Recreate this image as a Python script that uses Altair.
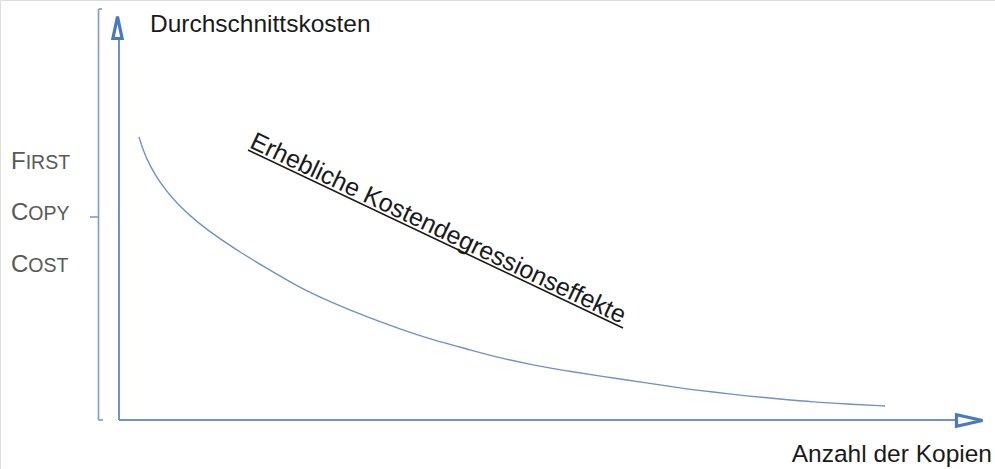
import altair as alt
import pandas as pd

# ---- data (diagram space: x = Anzahl der Kopien, y = Durchschnittskosten) ----
copies = [20, 24, 31, 41, 58, 78, 101, 124, 144, 181, 214, 248, 281, 314, 348,
          381, 414, 448, 481, 528, 561, 594, 628, 661, 694, 728, 766]
avg_cost = [283, 270, 254, 237, 216, 198, 181, 166, 154, 132, 117, 103, 91, 80, 71,
            62, 55, 49, 44, 37, 32, 28, 24, 21, 18, 16, 14]

# axis lines (segments)
axis_x = [0, 0]
axis_x2 = [0, 837]
axis_y = [0, 0]
axis_y2 = [381, 0]

# bracket for first copy cost
br_x = [-20.5, -20.5, -20.5, -29.0]
br_x2 = [-20.5, -17.0, -16.0, -20.5]
br_y = [0, 411, 0, 203]
br_y2 = [411, 411, 0, 203]

# labels
fcc_caps = ["F", "C", "C"]
fcc_rest = ["IRST", "OPY", "OST"]
fcc_y = [251, 200, 148]
fcc_x_caps = [-108, -108, -108]
fcc_x_rest = [-93.3, -90.7, -90.7]

y_title = "Durchschnittskosten"
x_title = "Anzahl der Kopien"
note = "Erhebliche Kostendegressionseffekte"

XD = [-119, 876]
YD = [-49, 420]
FONT = "Liberation Sans"
LINE = "#7090c8"
ARROW = "#4a7abd"


def X(f="x"):
    return alt.X(f"{f}:Q", scale=alt.Scale(domain=XD, nice=False, zero=False), axis=None)


def Y(f="y"):
    return alt.Y(f"{f}:Q", scale=alt.Scale(domain=YD, nice=False, zero=False), axis=None)


curve = alt.Chart(pd.DataFrame({"x": copies, "y": avg_cost})).mark_line(
    color=LINE, strokeWidth=1.4, interpolate="basis"
).encode(x=X(), y=Y(), order="x:Q")

axes = alt.Chart(pd.DataFrame({"x": axis_x, "x2": axis_x2, "y": axis_y, "y2": axis_y2})).mark_rule(
    color=LINE, strokeWidth=2
).encode(x=X(), x2="x2:Q", y=Y(), y2="y2:Q")

bracket = alt.Chart(pd.DataFrame({"x": br_x, "x2": br_x2, "y": br_y, "y2": br_y2})).mark_rule(
    color="#7d9bcb", strokeWidth=1.6
).encode(x=X(), x2="x2:Q", y=Y(), y2="y2:Q")

arrow_up = alt.Chart(pd.DataFrame({"x": [-1.5], "y": [392.5]})).mark_point(
    shape="M0,-1L0.42,1L-0.42,1Z", size=484, filled=False, stroke=ARROW,
    strokeWidth=3.2, opacity=1, strokeJoin="miter"
).encode(x=X(), y=Y())

arrow_right = alt.Chart(pd.DataFrame({"x": [850.5], "y": [-0.5]})).mark_point(
    shape="M1,0L-1,-0.44L-1,0.44Z", size=676, filled=False, stroke=ARROW,
    strokeWidth=3.2, opacity=1, strokeJoin="miter"
).encode(x=X(), y=Y())

ytitle = alt.Chart(pd.DataFrame({"x": [31], "y": [388], "t": [y_title]})).mark_text(
    align="left", baseline="alphabetic", font=FONT, fontSize=24.5, color="#1a1a1a"
).encode(x=X(), y=Y(), text="t:N")

xtitle = alt.Chart(pd.DataFrame({"x": [873], "y": [-42], "t": [x_title]})).mark_text(
    align="right", baseline="alphabetic", font=FONT, fontSize=24.5, color="#1a1a1a"
).encode(x=X(), y=Y(), text="t:N")

caps = alt.Chart(pd.DataFrame({"x": fcc_x_caps, "y": fcc_y, "t": fcc_caps})).mark_text(
    align="left", baseline="alphabetic", font=FONT, fontSize=24, color="#595959"
).encode(x=X(), y=Y(), text="t:N")

rest = alt.Chart(pd.DataFrame({"x": fcc_x_rest, "y": fcc_y, "t": fcc_rest})).mark_text(
    align="left", baseline="alphabetic", font=FONT, fontSize=19.5, color="#595959"
).encode(x=X(), y=Y(), text="t:N")

note_txt = alt.Chart(pd.DataFrame({"x": [129.5], "y": [273], "t": [note]})).mark_text(
    align="left", baseline="alphabetic", angle=25.4, font=FONT, fontSize=25, color="#1a1a1a"
).encode(x=X(), y=Y(), text="t:N")

underline = alt.Chart(pd.DataFrame({"x": [129], "x2": [504], "y": [270], "y2": [92]})).mark_rule(
    color="#1a1a1a", strokeWidth=1.6
).encode(x=X(), x2="x2:Q", y=Y(), y2="y2:Q")

chart = alt.layer(
    bracket, axes, arrow_up, arrow_right, curve, underline, note_txt,
    ytitle, xtitle, caps, rest
).properties(
    width=995, height=469, padding=0, autosize=alt.AutoSizeParams(type="none")
).configure_view(stroke=None).configure(background="white")

chart.save("out.html", embed_options={"renderer": "svg", "actions": False})
